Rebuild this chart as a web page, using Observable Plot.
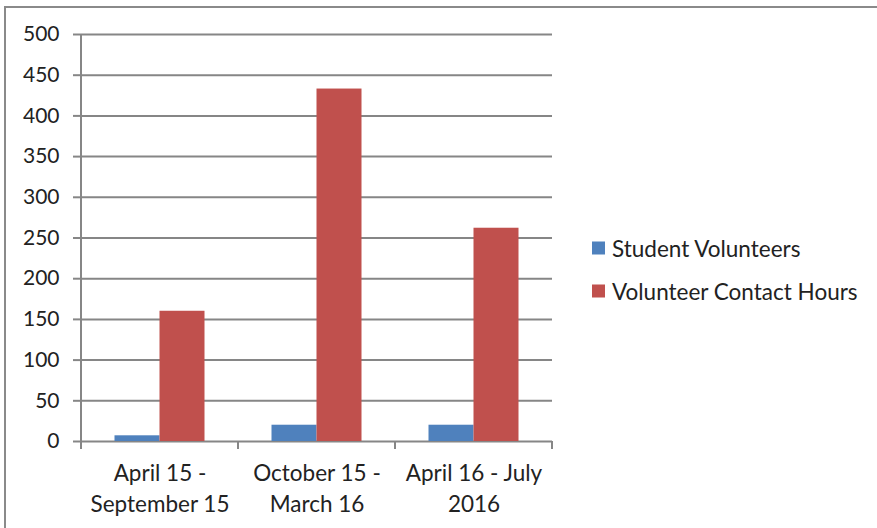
<!DOCTYPE html>
<html>
<head>
<meta charset="utf-8">
<script src="https://cdn.jsdelivr.net/npm/d3@7"></script>
<script src="https://cdn.jsdelivr.net/npm/@observablehq/plot@0.6"></script>
<style>
  html, body { margin: 0; padding: 0; background: #fff; }
  #wrap { position: relative; width: 877px; height: 528px; overflow: hidden; font-family: Lato, "Open Sans", sans-serif; }
  #border { position: absolute; left: 4px; top: 6px; width: 900px; height: 600px; border-left: 2px solid #8a8a8a; border-top: 2px solid #8a8a8a; box-sizing: border-box; pointer-events: none; }
  #chart { position: absolute; left: 0; top: 0; }
  .legend { position: absolute; left: 592px; font-size: 22.5px; color: #222; }
  .legend .row { position: absolute; left: 0; display: flex; align-items: center; white-space: nowrap; transform: translateY(-50%); }
  .legend .sw { width: 13px; height: 13px; margin-right: 7px; flex: none; }
</style>
</head>
<body>
<div id="wrap">
  <div id="chart"></div>
  <div id="legend" class="legend"></div>
  <div id="border"></div>
</div>
<script>
const categories = ["April 15 -\nSeptember 15", "October 15 -\nMarch 16", "April 16 - July\n2016"];
const seriesNames = ["Student Volunteers", "Volunteer Contact Hours"];
const studentVolunteers = [7, 20, 20];
const contactHours = [160, 433, 262];
const seriesColors = ["#4F81BD", "#C0504D"];
const yTicks = [0, 50, 100, 150, 200, 250, 300, 350, 400, 450, 500];

const W = 877, H = 528;
const mL = 81, mR = 325, mT = 34, mB = 87;
const band = (W - mL - mR) / categories.length;
const half = band / 2;
const barW = 45;

const rows = [];
categories.forEach((c, i) => {
  rows.push({cat: c, series: seriesNames[0], value: studentVolunteers[i]});
  rows.push({cat: c, series: seriesNames[1], value: contactHours[i]});
});

const grid = "#868686";

const plot = Plot.plot({
  width: W,
  height: H,
  marginLeft: mL,
  marginRight: mR,
  marginTop: mT,
  marginBottom: mB,
  style: {fontFamily: "Lato, 'Open Sans', sans-serif", fontSize: "20px", color: "#222", background: "transparent"},
  x: {domain: categories, padding: 0, axis: null},
  y: {domain: [0, 500], axis: null},
  marks: [
    Plot.ruleY(yTicks, {stroke: grid, strokeWidth: 2}),
    Plot.axisY({ticks: yTicks, tickSize: 8, tickPadding: 14, stroke: grid, strokeWidth: 2, fill: "#222", fontSize: 21, label: null, tickFormat: d => String(d)}),
    Plot.barY(rows.filter(d => d.series === seriesNames[0]), {x: "cat", y: "value", fill: seriesColors[0], insetLeft: half - barW, insetRight: half}),
    Plot.barY(rows.filter(d => d.series === seriesNames[1]), {x: "cat", y: "value", fill: seriesColors[1], insetLeft: half, insetRight: half - barW}),
    Plot.axisX({tickSize: 0, tickPadding: 17, fontSize: 22.5, fill: "#222", lineHeight: 1.38, label: null})
  ]
});

document.getElementById("chart").appendChild(plot);

// y axis line and category boundary ticks, positioned from the plot's scales
const xs = plot.scale("x"), ys = plot.scale("y");
const y0 = ys.apply(0), yTop = ys.apply(500);
const bounds = categories.map(c => xs.apply(c));
bounds.push(bounds[bounds.length - 1] + xs.bandwidth);
const svg = d3.select(plot);
const g = svg.append("g").attr("stroke", grid).attr("stroke-width", 2);
g.append("line").attr("x1", bounds[0]).attr("x2", bounds[0]).attr("y1", yTop).attr("y2", y0 + 1);
bounds.forEach(b => {
  g.append("line").attr("x1", b).attr("x2", b).attr("y1", y0).attr("y2", y0 + 8);
});

// legend
const legend = document.getElementById("legend");
const rowY = [247.5, 291];
seriesNames.forEach((name, i) => {
  const r = document.createElement("div");
  r.className = "row";
  r.style.top = rowY[i] + "px";
  const sw = document.createElement("div");
  sw.className = "sw";
  sw.style.background = seriesColors[i];
  const t = document.createElement("span");
  t.textContent = name;
  r.appendChild(sw); r.appendChild(t);
  legend.appendChild(r);
});
</script>
</body>
</html>
